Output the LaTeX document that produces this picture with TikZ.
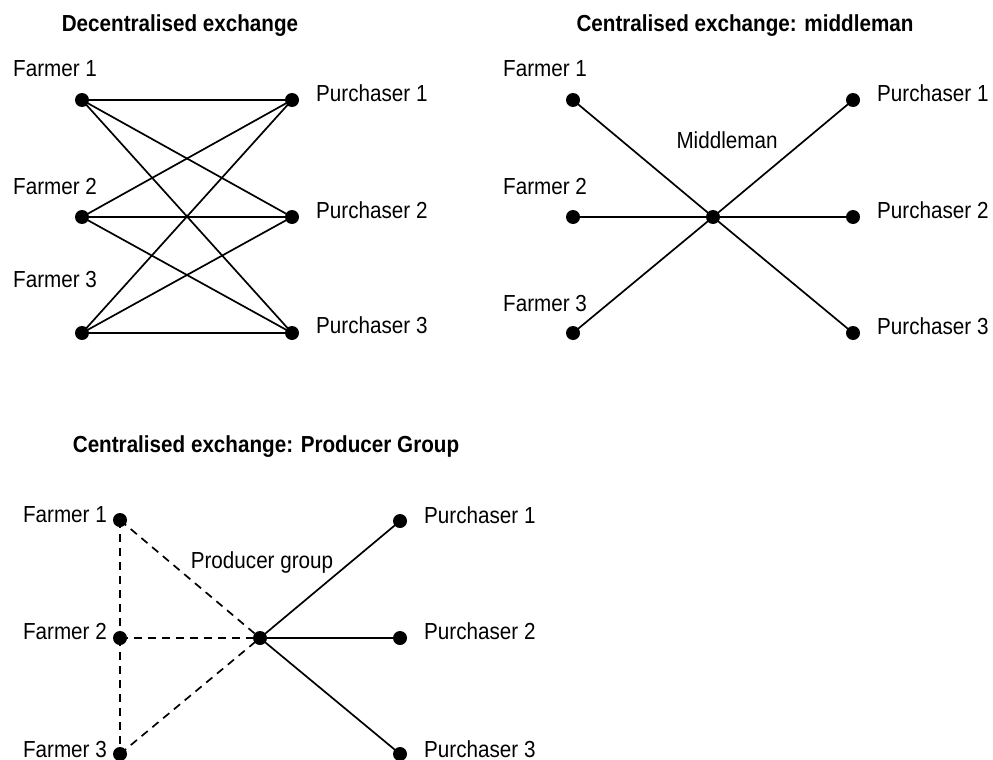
\documentclass[tikz,border=0pt]{standalone}
\usepackage{fontspec}
\setmainfont{Liberation Sans}[FakeStretch=0.89]
\begin{document}
\begin{tikzpicture}[x=1pt,y=-1pt,
  dot/.style={circle,fill=black,inner sep=0pt,minimum size=14pt},
  lbl/.style={font=\fontsize{23.2}{26}\selectfont,inner sep=0pt,anchor=base west},
  lblr/.style={font=\fontsize{23.2}{26}\selectfont,inner sep=0pt,anchor=base east},
  lblc/.style={font=\fontsize{23.2}{26}\selectfont,inner sep=0pt,anchor=base},
  ttl/.style={font=\fontsize{23.2}{26}\selectfont\bfseries,inner sep=0pt,anchor=base},
  link/.style={line width=1.7pt},
  dlink/.style={line width=1.7pt,dash pattern=on 8pt off 6pt}]
\useasboundingbox (0,0) rectangle (993,760);
% ---- Panel 1
\node[ttl] (t1) at (180,31.5) {Decentralised exchange};
\node[dot] (a1) at (82,100) {};
\node[dot] (a2) at (82,217) {};
\node[dot] (a3) at (82,333) {};
\node[dot] (b1) at (292,100) {};
\node[dot] (b2) at (292,217) {};
\node[dot] (b3) at (292,333) {};
\node[lbl] (la1) at (13,77) {Farmer 1};
\node[lbl] (la2) at (13,194) {Farmer 2};
\node[lbl] (la3) at (13,287) {Farmer 3};
\node[lbl] (lb1) at (316,101.5) {Purchaser 1};
\node[lbl] (lb2) at (316,218) {Purchaser 2};
\node[lbl] (lb3) at (316,333) {Purchaser 3};
\foreach \i in {1,2,3}{\foreach \j in {1,2,3}{\draw[link] (a\i.center) -- (b\j.center);}}
% ---- Panel 2
\node[ttl] (t2) at (745,31.5) {Centralised exchange: middleman};
\node[dot] (c1) at (573,100) {};
\node[dot] (c2) at (573,217) {};
\node[dot] (c3) at (573,333) {};
\node[dot] (m) at (713,217) {};
\node[dot] (d1) at (853,100) {};
\node[dot] (d2) at (853,217) {};
\node[dot] (d3) at (853,333) {};
\node[lbl] (lc1) at (503,77) {Farmer 1};
\node[lbl] (lc2) at (503,194) {Farmer 2};
\node[lbl] (lc3) at (503,311) {Farmer 3};
\node[lbl] (ld1) at (877,101.5) {Purchaser 1};
\node[lbl] (ld2) at (877,218) {Purchaser 2};
\node[lbl] (ld3) at (877,334) {Purchaser 3};
\node[lblc] (lm) at (727,148) {Middleman};
\foreach \i in {1,2,3}{\draw[link] (c\i.center) -- (m.center); \draw[link] (m.center) -- (d\i.center);}
% ---- Panel 3
\node[ttl] (t3) at (266,452) {Centralised exchange: Producer Group};
\node[dot] (e1) at (120,520) {};
\node[dot] (e2) at (120,638) {};
\node[dot] (e3) at (120,754) {};
\node[dot] (g) at (260,638) {};
\node[dot] (f1) at (400,521) {};
\node[dot] (f2) at (400,638) {};
\node[dot] (f3) at (400,754) {};
\node[lblr] (le1) at (107,522) {Farmer 1};
\node[lblr] (le2) at (107,639) {Farmer 2};
\node[lblr] (le3) at (107,757) {Farmer 3};
\node[lbl] (lf1) at (424,523) {Purchaser 1};
\node[lbl] (lf2) at (424,639) {Purchaser 2};
\node[lbl] (lf3) at (424,757) {Purchaser 3};
\node[lblc] (lg) at (262,568) {Producer group};
\draw[dlink] (e1.center) -- (e2.center);
\draw[dlink] (e2.center) -- (e3.center);
\foreach \i in {1,2,3}{\draw[dlink] (e\i.center) -- (g.center); \draw[link] (g.center) -- (f\i.center);}
\end{tikzpicture}
\end{document}
